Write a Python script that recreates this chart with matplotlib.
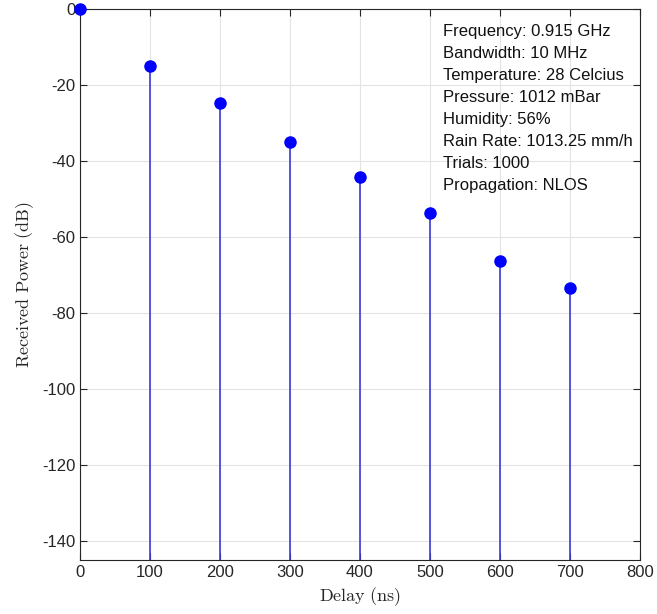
import matplotlib
matplotlib.use("Agg")
import matplotlib.pyplot as plt
import numpy as np

delay_ns = [0, 100, 200, 300, 400, 500, 600, 700]
power_db = [0.0, -15.0, -24.7, -34.9, -44.1, -53.6, -66.2, -73.5]
info_lines = [
    "Frequency: 0.915 GHz",
    "Bandwidth: 10 MHz",
    "Temperature: 28 Celcius",
    "Pressure: 1012 mBar",
    "Humidity: 56%",
    "Rain Rate: 1013.25 mm/h",
    "Trials: 1000",
    "Propagation: NLOS",
]
xticks = [0, 100, 200, 300, 400, 500, 600, 700, 800]
yticks = [0, -20, -40, -60, -80, -100, -120, -140]

plt.rcParams['font.family'] = ['Liberation Sans', 'DejaVu Sans']
plt.rcParams['mathtext.fontset'] = 'cm'
plt.rcParams['axes.unicode_minus'] = False

fig = plt.figure(figsize=(6.57, 6.14), dpi=100)
ax = fig.add_axes([80/657, 1-560/614, (640-80)/657, (560-9)/614])

ml, sl, bl = ax.stem(delay_ns, power_db, bottom=-145, basefmt=' ')
plt.setp(sl, color='#3a3ad8', linewidth=1.2)
plt.setp(ml, color='#0000ff', markersize=8, zorder=5, clip_on=False)

ax.set_xlim(0, 800)
ax.set_ylim(-145, 0)
ax.set_xticks(xticks)
ax.set_yticks(yticks)
ax.tick_params(direction='in', top=True, right=True, labelsize=12, colors='#262626', length=5)
ax.grid(True, color='#e3e3e3', linewidth=0.8)
ax.set_axisbelow(True)
for s in ax.spines.values():
    s.set_color('#262626')
    s.set_linewidth(0.8)

ax.set_xlabel(r'$\mathrm{Delay\ (ns)}$', fontsize=13, color='#262626')
ax.set_ylabel(r'$\mathrm{Received\ Power\ (dB)}$', fontsize=13, color='#262626')

ax.text((443-80)/560, 1-(24-9)/551, "\n".join(info_lines), transform=ax.transAxes,
        ha='left', va='top', fontsize=12, linespacing=1.58, color='#111111')

fig.savefig('out.png', dpi=100)
